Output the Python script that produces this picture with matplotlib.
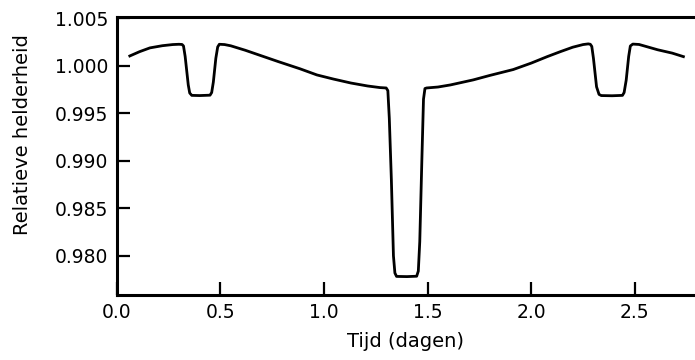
import matplotlib
matplotlib.use("Agg")
import matplotlib.pyplot as plt

# light curve (time in days, relative brightness)
tijd = [
    0.063, 0.11, 0.16, 0.22, 0.27, 0.30, 0.315, 0.322,
    0.330, 0.345, 0.352, 0.362, 0.40, 0.450, 0.458, 0.466,
    0.478, 0.487, 0.495, 0.52, 0.55, 0.62, 0.70, 0.78,
    0.884, 0.966, 1.045, 1.13, 1.21, 1.27, 1.300,
    1.308, 1.315, 1.325, 1.335, 1.342, 1.350, 1.40, 1.447,
    1.455, 1.462, 1.472, 1.480, 1.487, 1.495, 1.55, 1.61,
    1.72, 1.80, 1.913, 2.00, 2.077, 2.14, 2.20, 2.25,
    2.275, 2.285, 2.292, 2.300, 2.315, 2.327, 2.338, 2.39,
    2.440, 2.448, 2.458, 2.470, 2.478, 2.490, 2.52, 2.61,
    2.68, 2.734,
]
helderheid = [
    1.00105, 1.00150, 1.00190, 1.00213, 1.00225, 1.00228, 1.00226, 1.00210,
    1.00100, 0.99800, 0.99715, 0.99690, 0.99688, 0.99692, 0.99720, 0.99830,
    1.00080, 1.00200, 1.00228, 1.00225, 1.00212, 1.00165, 1.00105, 1.00045,
    0.99970, 0.99905, 0.99862, 0.99820, 0.99789, 0.99772, 0.99768,
    0.99740, 0.99450, 0.98800, 0.98000, 0.97820, 0.97784, 0.97782, 0.97786,
    0.97840, 0.98150, 0.99000, 0.99650, 0.99762, 0.99768, 0.99778, 0.99800,
    0.99853, 0.99900, 0.99962, 1.00030, 1.00098, 1.00150, 1.00197, 1.00225,
    1.00232, 1.00228, 1.00205, 1.00080, 0.99780, 0.99700, 0.99688, 0.99686,
    0.99690, 0.99720, 0.99850, 1.00100, 1.00210, 1.00230, 1.00226, 1.00170,
    1.00135, 1.00098,
]

x_ticks = [0.0, 0.5, 1.0, 1.5, 2.0, 2.5]
y_ticks = [0.980, 0.985, 0.990, 0.995, 1.000, 1.005]

plt.rcParams["font.family"] = ["DejaVu Sans"]

fig = plt.figure(figsize=(6.95, 3.6), dpi=100)
ax = fig.add_axes([0.168, 0.181, 0.832, 0.772])

ax.plot(tijd, helderheid, color="black", lw=2.0, solid_joinstyle="round")

ax.set_xlim(0.0, 2.79)
ax.set_ylim(0.97590, 1.00516)
ax.set_xticks(x_ticks)
ax.set_xticklabels([f"{v:.1f}" for v in x_ticks])
ax.set_yticks(y_ticks)
ax.set_yticklabels([f"{v:.3f}" for v in y_ticks])

ax.tick_params(direction="in", length=9.5, width=1.6, labelsize=13.5,
               pad=6, color="black")
for side in ("left", "top", "bottom"):
    ax.spines[side].set_linewidth(2.2)
ax.spines["right"].set_visible(False)

ax.set_xlabel("Tijd (dagen)", fontsize=14, labelpad=7)
ax.set_ylabel("Relatieve helderheid", fontsize=14)
# the label sits a little above the axes centre in the reference
ax.yaxis.set_label_coords(-0.147, 0.576)

fig.savefig("out.png", dpi=100)
